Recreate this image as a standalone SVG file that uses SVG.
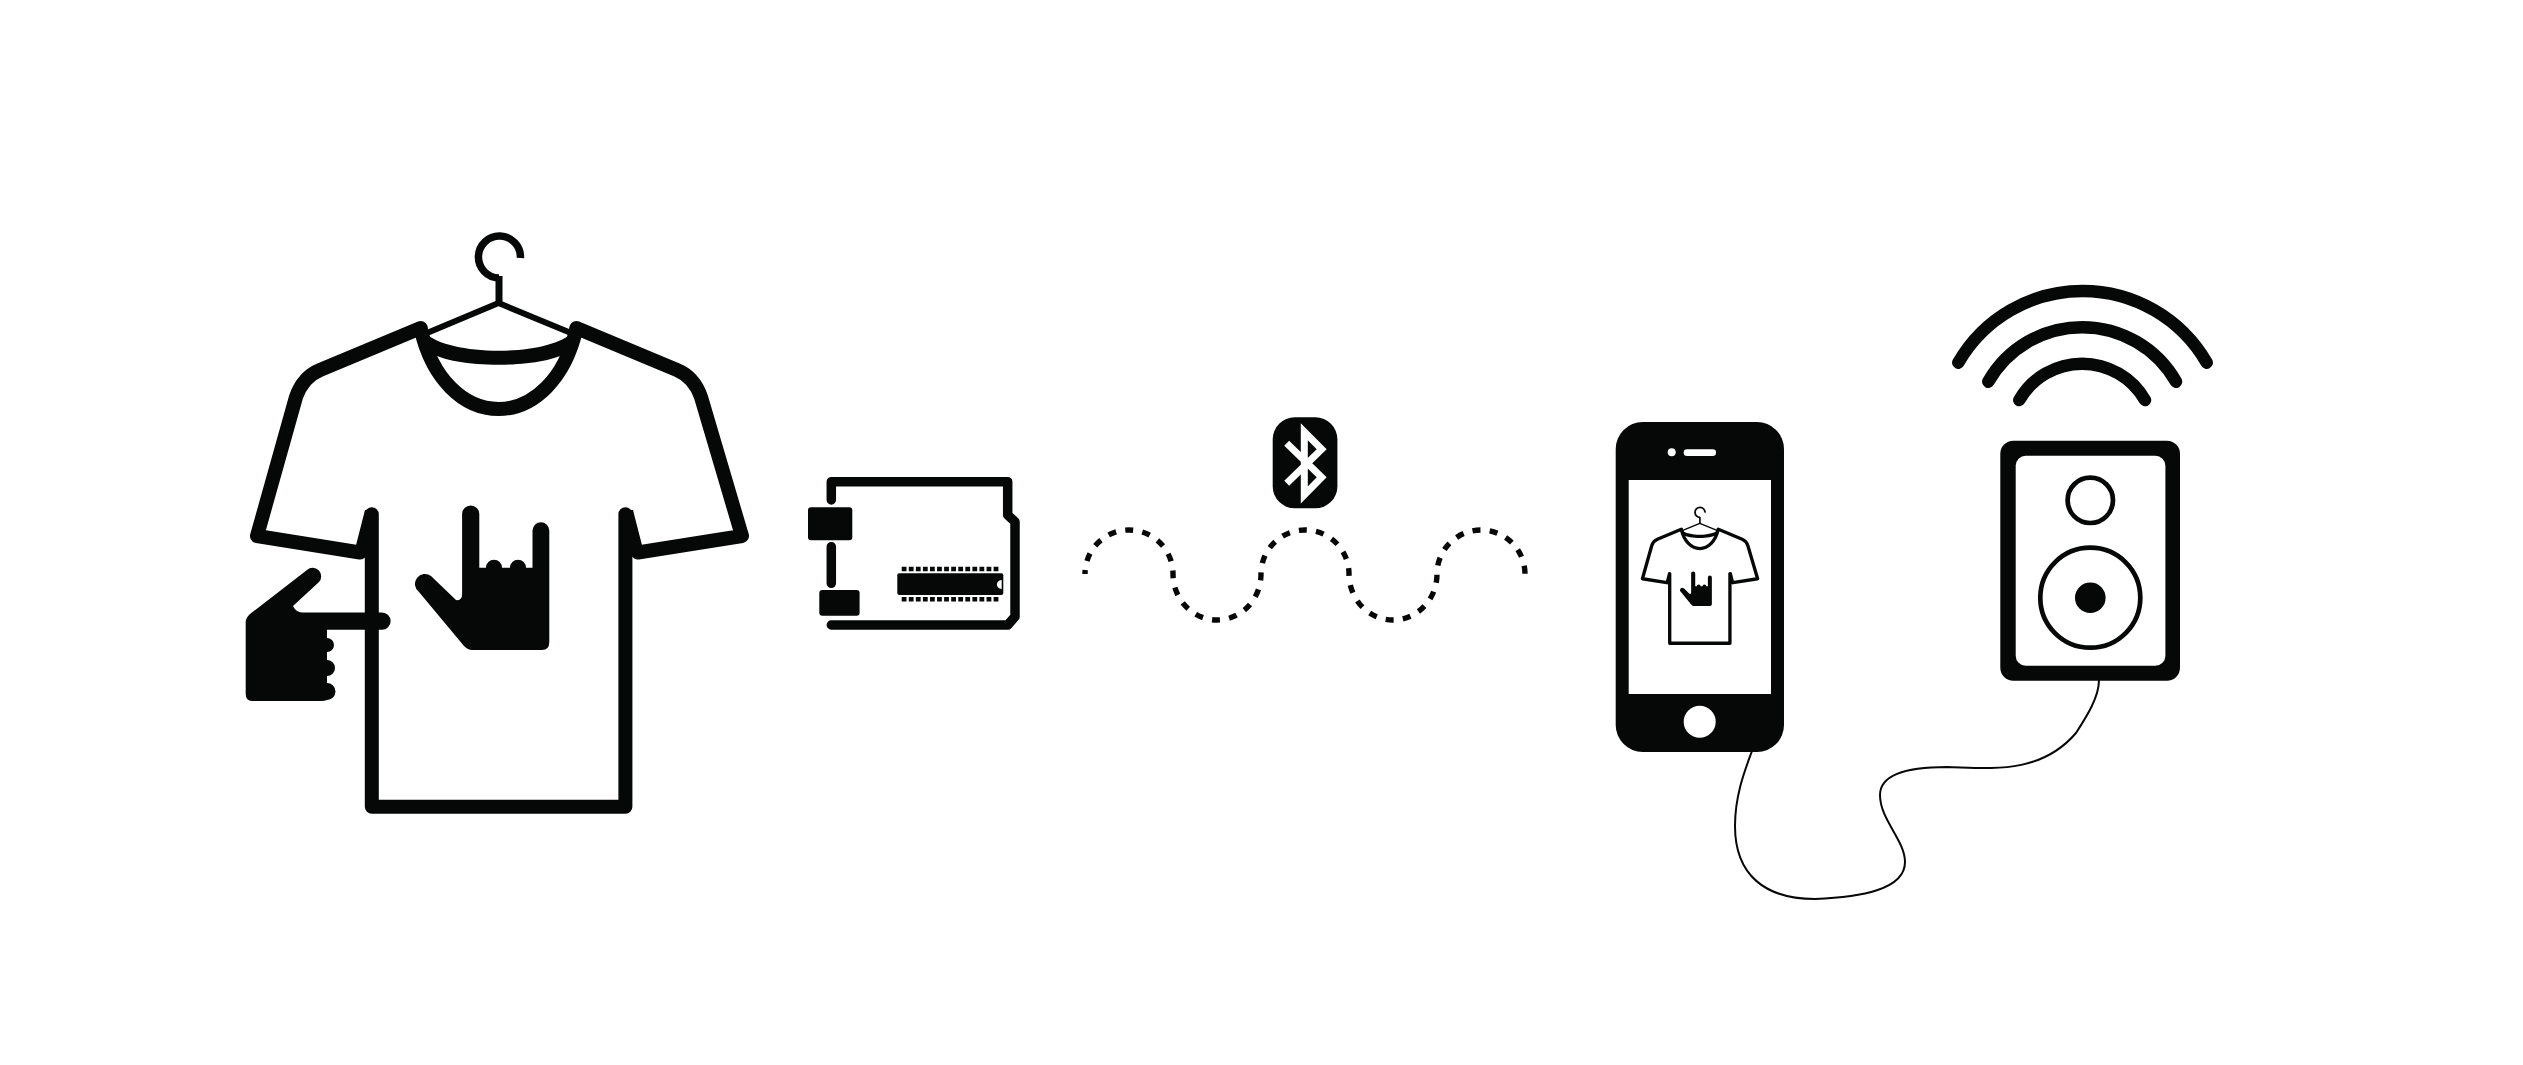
<svg xmlns="http://www.w3.org/2000/svg" width="2523" height="1065" viewBox="0 0 2523 1065">
<style>
.k{fill:#060707}
.w{fill:#fff}
.line{fill:none;stroke:#060707;stroke-linecap:round;stroke-linejoin:round}
.arc{fill:none;stroke:#060707;stroke-width:12.5;stroke-linecap:round}
</style>
<defs>
<g id="tee-art">
<path class="line" d="M520.4,258 A21,21 0 1 0 499,278" style="stroke-width:7.5;stroke-linecap:butt"/>
<path class="line" d="M499,276 V303" style="stroke-width:7;stroke-linecap:butt"/>
<path class="line" d="M427,333 L498.6,303 L571,333" style="stroke-width:6"/>
<path class="line" style="stroke-width:14" d="M420.7,328 L320,370 Q303,377 296,397 L257,536 L360,552.5 M371.8,514.3 V806.8 H625.4 V514.3 M637.9,552.5 L742,536 L701,397 Q694,377 677,370 L576.4,328"/>
<path class="k" d="M354,553 L365,510 L372,510 L372,557 Z M644,553 L633,510 L626,510 L626,557 Z"/>
<path class="line" style="stroke-width:14" d="M421,330 C432,378 463,409 498.6,409 C534,409 565,378 576,330"/>
<path class="k" d="M424,332 C448,357 549,357 573,332 L567,352 C545,369 452,369 430,352 Z"/>
<path class="k" d="M462.1,514 A8.6,8.6 0 0 1 479.3,514 V567.7 H486 A8,8 0 0 1 502,567.7 H510 A8,8 0 0 1 526,567.7 H532.5 V530.6 A8.4,8.4 0 0 1 549.3,530.6 V642 Q549.3,650 542,650 H472 Q468,650 464,646 L419,592 A8.8,8.8 0 0 1 431,576 L456,600 Q462,601 462.1,594 Z"/>
</g>
</defs>
<rect width="2523" height="1065" fill="#fff"/>
<g id="connectors">
<path id="wireless" d="M1085,574 A44,44 0 0 1 1173,574 A44,46 0 0 0 1261,574 A44,44 0 0 1 1349,574 A44,46 0 0 0 1437,574 A44,44 0 0 1 1525,574" style="fill:none;stroke:#060707;stroke-width:5.4;stroke-dasharray:8 9.3;stroke-dashoffset:4"/>
<path id="cable" class="line" style="stroke-width:2" d="M1752,751 C1745,770 1735,795 1735,826 C1735,875 1765,899 1815,899 C1860,897 1905,890 1905,862 C1905,840 1880,820 1880,795 C1880,770 1920,767 1947,767 C1990,768 2040,775 2076,733 C2087,716 2099,697 2099,680"/>
</g>
<g id="shirt">
<use href="#tee-art"/>
<path class="k" d="M245.7,622 Q245.7,618 250,614 L307,570 A8.5,8.5 0 0 1 319,582 L293,606 Q296,612.4 302,612.4 H382 A8.7,8.7 0 0 1 382,629.8 H327 V638 A7,7 0 0 1 327,652 V660 A8,8 0 0 1 327,676 V683 A8.5,8.5 0 0 1 327,700 Q325,701 321,701 H252 Q245.7,701 245.7,694 Z"/>
</g>
<g id="arduino">
<path class="line" style="stroke-width:9.5" d="M831.3,500 V481.7 H1007.7 V515 L1015,521.7 V616.7 L1007.7,625 H831.3 M831.3,546.7 V583.3"/>
<rect class="k" x="808" y="507.3" width="44.3" height="33" rx="3"/>
<rect class="k" x="819.3" y="590" width="40.3" height="25.7" rx="3"/>
<rect class="k" x="897.3" y="573.3" width="106" height="21.7" rx="2"/>
<path class="w" d="M1001.7,580 A6,4.6 0 0 0 1001.7,589 Z"/>
<path d="M901.7,569 H999 M901.7,599.3 H999" style="fill:none;stroke:#060707;stroke-width:4.6;stroke-dasharray:4.8 2.27"/>
</g>
<g id="bluetooth">
<rect class="k" x="1272.7" y="417.3" width="64.7" height="91" rx="22"/>
<path d="M1286.7,443.3 L1321.7,477.3 L1304.3,495 V431.7 L1321.7,449.3 L1286.7,483.3" style="fill:none;stroke:#fff;stroke-width:7;stroke-miterlimit:6"/>
</g>
<g id="phone">
<rect class="k" x="1615.7" y="422" width="168.3" height="330" rx="27"/>
<rect class="w" x="1628.7" y="480" width="142.3" height="214"/>
<circle class="w" cx="1671.7" cy="452.3" r="4"/>
<rect class="w" x="1683.7" y="449.3" width="32.3" height="6.7" rx="3.3"/>
<circle class="w" cx="1699.7" cy="721.7" r="16"/>
<use href="#tee-art" transform="translate(1581.4 451.2) scale(0.2375 0.238)"/>
</g>
<g id="speaker">
<rect class="k" x="2000.3" y="440.7" width="179.7" height="240" rx="13"/>
<rect class="w" x="2015.7" y="455.7" width="149.7" height="210" rx="10"/>
<circle cx="2090.3" cy="500.3" r="22.7" style="fill:none;stroke:#060707;stroke-width:4.7"/>
<circle cx="2090.3" cy="597.7" r="50" style="fill:none;stroke:#060707;stroke-width:4.7"/>
<circle class="k" cx="2090.3" cy="597.7" r="15.3"/>
</g>
<g id="sound-waves">
<path class="arc" d="M1958.3,362.7 A143.4,143.4 0 0 1 2206.7,362.7"/>
<path class="arc" d="M1988.3,381.7 A108,108 0 0 1 2176,381.7"/>
<path class="arc" d="M2019.3,400 A72.5,72.5 0 0 1 2145,400"/>
</g>
</svg>
